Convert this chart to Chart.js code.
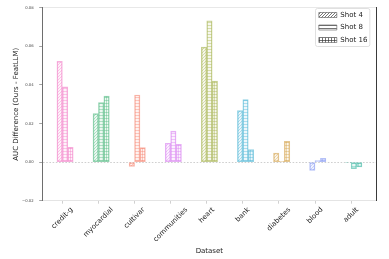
<!DOCTYPE html>
<html><head><meta charset="utf-8">
<script src="https://cdn.jsdelivr.net/npm/chart.js@4.4.0/dist/chart.umd.min.js"></script>
<style>html,body{margin:0;padding:0;background:#fff;}canvas{display:block;}</style>
</head><body>
<canvas id="c" width="389" height="259"></canvas>
<script>
const categories = ['credit-g','myocardial','cultivar','communities','heart','bank','diabetes','blood','adult'];
const shot4  = [0.0522, 0.0252, -0.0022, 0.0098, 0.0596, 0.0267, 0.0047, -0.0043, -0.0002];
const shot8  = [0.0390, 0.0308, 0.0348, 0.0161, 0.0733, 0.0324, 0.0004, 0.0008, -0.0034];
const shot16 = [0.0077, 0.0342, 0.0075, 0.0092, 0.0420, 0.0065, 0.0108, 0.0019, -0.0025];
const seriesNames = ['Shot 4', 'Shot 8', 'Shot 16'];
const yTickValues = [-0.02, 0.00, 0.02, 0.04, 0.06, 0.08];

const seriesValues = [shot4, shot8, shot16];
const hatchKinds = ['diag', 'h', 'grid'];
const palette = ['#f27cc6','#4fb87f','#f5836f','#d77ef0','#a4b24c','#4bb5d4','#d3a24c','#8497f2','#42b9a5'];
const FONT = "'DejaVu Sans', sans-serif";
const BAR_W = 0.15;
const LEG_PAD = 5.5;

function rgba(hex, a) {
  const n = parseInt(hex.slice(1), 16);
  return `rgba(${(n>>16)&255},${(n>>8)&255},${n&255},${a})`;
}
function hatch(color, kind, aBg, aLine, bgWhite) {
  const s = 3;
  const c = document.createElement('canvas'); c.width = s; c.height = s;
  const g = c.getContext('2d');
  if (bgWhite) { g.fillStyle = '#fff'; g.fillRect(0,0,s,s); }
  g.fillStyle = rgba(color, aBg); g.fillRect(0, 0, s, s);
  g.strokeStyle = rgba(color, aLine); g.lineWidth = 0.8;
  g.beginPath();
  if (kind === 'diag') {
    g.moveTo(-1, s + 1); g.lineTo(s + 1, -1);
    g.moveTo(-1, 1); g.lineTo(1, -1);
    g.moveTo(s - 1, s + 1); g.lineTo(s + 1, s - 1);
  }
  if (kind === 'h' || kind === 'grid') { g.moveTo(0, 1.5); g.lineTo(s, 1.5); }
  if (kind === 'grid') { g.moveTo(1.5, 0); g.lineTo(1.5, s); }
  g.stroke();
  return g.createPattern(c, 'repeat');
}
const patterns = hatchKinds.map(k => palette.map(col => hatch(col, k, 0.10, 0.5, false)));
const legendPatterns = hatchKinds.map(k => hatch('#333333', k, 0.0, 0.85, true));

function fmt(v) {
  const s = Math.abs(v).toFixed(2);
  return (v < -1e-9 ? '\u2212' : '') + s;
}

const centerRotatedLabels = {
  id: 'centerRotatedLabels',
  beforeDraw(chart) {
    const s = chart.scales.x;
    const items = s.getLabelItems();
    const ctx = chart.ctx;
    items.forEach((it, i) => {
      if (it._centered) return;
      it._centered = true;
      ctx.save(); ctx.font = it.font.string;
      const w = ctx.measureText(it.label).width; ctx.restore();
      const r = it.options.rotation;
      const tick = s.getPixelForTick(i);
      it.options.translation[0] = tick + (w / 2) * Math.cos(r) + it.textOffset * Math.sin(r);
    });
  }
};

const legendPlacer = {
  id: 'legendPlacer',
  afterUpdate(chart) {
    const L = chart.legend; if (!L) return;
    const w = L.width, h = L.height;
    L.left = 313.3; L.top = 6; L.right = L.left + w; L.bottom = L.top + h;
  },
  afterDatasetsDraw(chart) {
    const L = chart.legend; if (!L || !L.legendHitBoxes.length) return;
    const hb = L.legendHitBoxes;
    const n = hb.length;
    const itemH = hb[0].height;
    const maxW = Math.max(...hb.map(b => b.width));
    const x0 = L.left + LEG_PAD - 3.3;
    const x1 = L.left + LEG_PAD + maxW + 2.5;
    const y0 = L.top + LEG_PAD - 3;
    const y1 = L.top + LEG_PAD + n * itemH + (n - 1) * LEG_PAD + 3;
    const ctx = chart.ctx;
    ctx.save(); ctx.strokeStyle = '#d8d8d8'; ctx.lineWidth = 0.8;
    ctx.beginPath(); ctx.roundRect(x0, y0, x1 - x0, y1 - y0, 2); ctx.stroke();
    ctx.restore();
  }
};

new Chart(document.getElementById('c'), {
  type: 'bar',
  data: {
    datasets: seriesNames.map((name, k) => ({
      label: name,
      data: seriesValues[k].map((v, i) => ({ x: i + (k - 0.5) * BAR_W, y: v })),
      backgroundColor: patterns[k],
      borderColor: palette.map(c => rgba(c, 0.6)),
      borderWidth: 0.8,
      borderSkipped: false,
      grouped: false,
      barPercentage: 1,
      categoryPercentage: 1
    }))
  },
  options: {
    responsive: false, animation: false, devicePixelRatio: 1,
    layout: { padding: { left: 0, right: 13, top: 6, bottom: 0 } },
    plugins: {
      tooltip: { enabled: false },
      legend: {
        position: 'chartArea', align: 'start',
        labels: {
          boxWidth: 18, boxHeight: 5, padding: LEG_PAD, color: '#222',
          font: { family: FONT, size: 7 },
          generateLabels: () => seriesNames.map((n, k) => ({
            text: n, fillStyle: legendPatterns[k], strokeStyle: '#555', lineWidth: 0.6,
            hidden: false, datasetIndex: k, fontColor: '#222'
          }))
        }
      }
    },
    scales: {
      x: {
        type: 'linear', position: 'bottom', min: -0.545, max: 8.69, offset: false,
        afterBuildTicks: s => { s.ticks = categories.map((c, i) => ({ value: i })); },
        afterFit: s => { s.height = 58.3; },
        ticks: { autoSkip: false, minRotation: 45, maxRotation: 45, padding: 2,
          font: { family: FONT, size: 7 }, color: '#222',
          callback: v => categories[v] ?? '' },
        grid: { display: true, drawOnChartArea: false, offset: false, tickLength: 3, tickColor: '#c4c4c4', tickWidth: 0.8 },
        border: { display: true, color: '#e4e4e4', width: 1 },
        title: { display: true, text: 'Dataset', font: { family: FONT, size: 7 }, color: '#222', padding: { top: 0, bottom: 4.1 } }
      },
      xTop: {
        type: 'linear', position: 'top', min: -0.545, max: 8.69, offset: false,
        afterFit: s => { s.height = 0; },
        ticks: { display: false },
        grid: { display: false, drawTicks: false },
        border: { display: true, color: '#e8e8e8', width: 1 }
      },
      y: {
        type: 'linear', position: 'left', min: -0.02, max: 0.08,
        afterBuildTicks: s => { s.ticks = yTickValues.map(v => ({ value: v })); },
        afterFit: s => { s.width = 42.7; },
        ticks: { font: { family: FONT, size: 3.8 }, color: '#444', padding: 5.5, callback: v => fmt(v) },
        grid: {
          display: true, drawOnChartArea: true, lineWidth: 1,
          color: c => (c.tick && Math.abs(c.tick.value) < 1e-9) ? '#cfcfcf' : 'rgba(0,0,0,0)',
          tickLength: 3.5, tickColor: '#8a8a8a', tickWidth: 0.8
        },
        border: { display: true, color: '#6e6e6e', width: 1, dash: [1.6, 1.6] },
        title: { display: true, text: 'AUC Difference (Ours - FeatLLM)', font: { family: FONT, size: 7 }, color: '#222', padding: { top: 11.5, bottom: 0 } }
      },
      yRight: {
        type: 'linear', position: 'right', min: -0.02, max: 0.08,
        afterFit: s => { s.width = 0; },
        ticks: { display: false },
        grid: { display: false, drawTicks: false },
        border: { display: true, color: '#3a3a3a', width: 1 }
      }
    }
  },
  plugins: [centerRotatedLabels, legendPlacer]
});
</script>
</body></html>
